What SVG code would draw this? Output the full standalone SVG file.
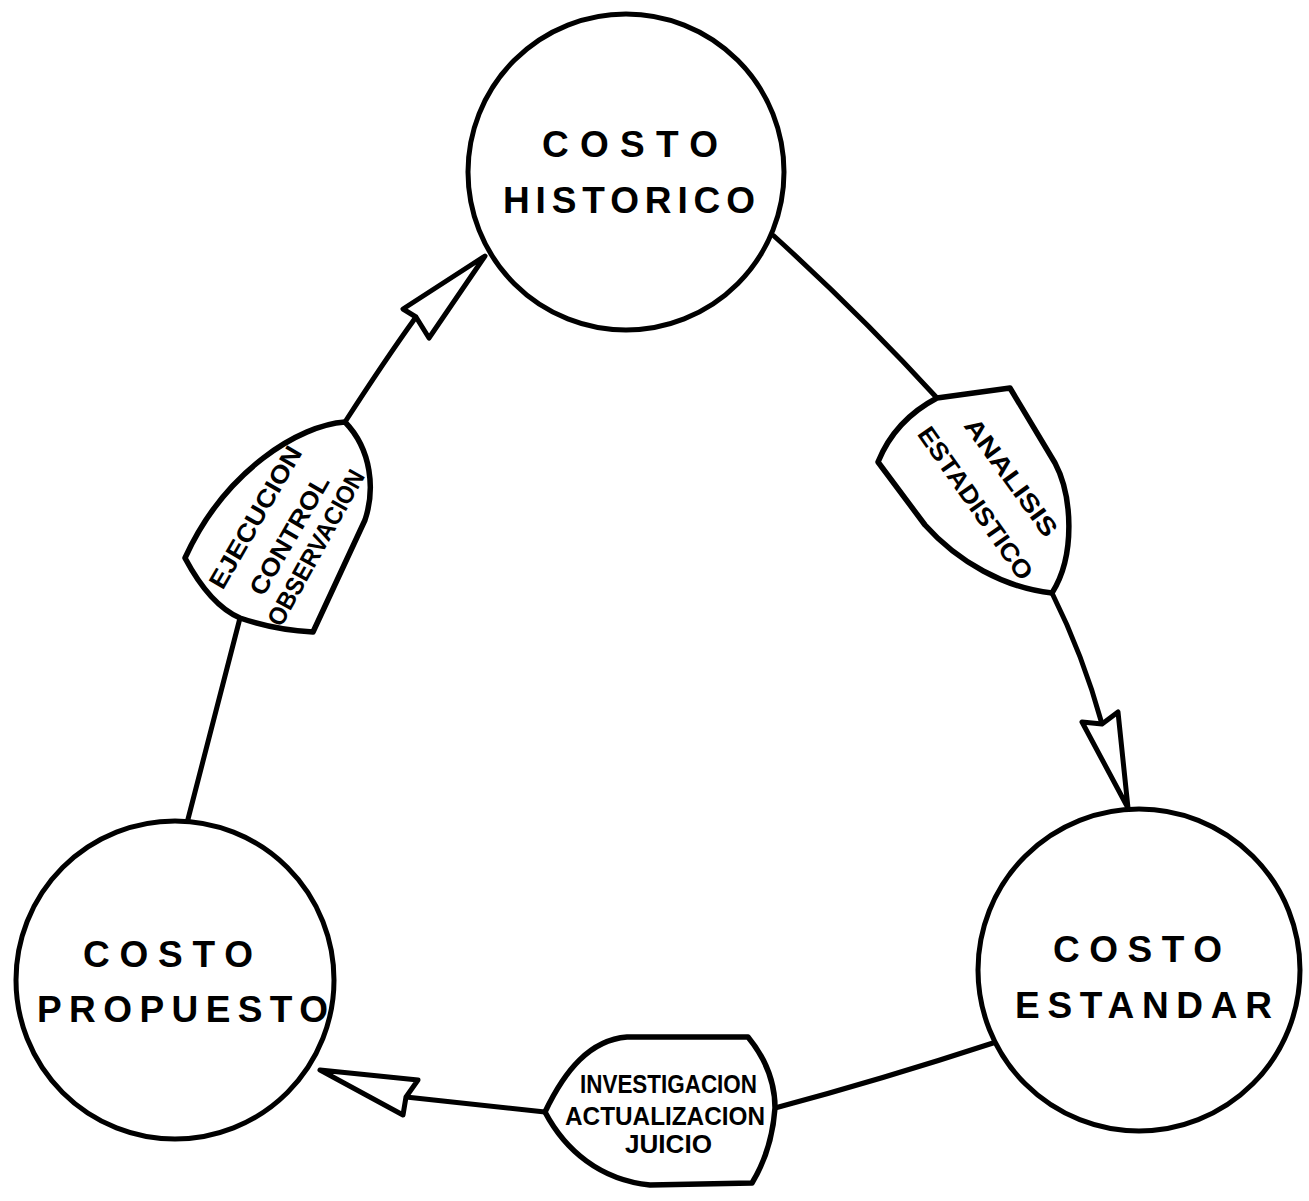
<svg xmlns="http://www.w3.org/2000/svg" width="1309" height="1201" viewBox="0 0 1309 1201">
  <style>
    .node { fill: #fff; stroke: #000; stroke-width: 5; }
    .tag { fill: #fff; stroke: #000; stroke-width: 5.5; stroke-linejoin: round; }
    .wire { fill: none; stroke: #000; stroke-width: 5; stroke-linecap: round; }
    .head { fill: #fff; stroke: #000; stroke-width: 5; stroke-linejoin: round; }
    .big { font-family: "Liberation Sans", Arial, sans-serif; font-weight: bold; font-size: 37px; fill: #000; }
    .small { font-family: "Liberation Sans", Arial, sans-serif; font-weight: bold; font-size: 25px; fill: #000; }
  </style>
  <rect width="1309" height="1201" fill="#fff"/>

  <!-- connectors between the cost stages -->
  <g id="connectors">
    <!-- propuesto -> historico -->
    <path class="wire" d="M187,823 Q214,718 240,618"/>
    <path class="wire" d="M345,422 Q385,360 416,317"/>
    <polygon class="head" points="485,256 403,309 416,317 429,338"/>
    <!-- historico -> estandar -->
    <path class="wire" d="M774,236 Q862,316 937,398"/>
    <path class="wire" d="M1052,593 Q1083,655 1102,724"/>
    <polygon class="head" points="1128,808 1082,722 1102,724 1118,712"/>
    <!-- estandar -> propuesto -->
    <path class="wire" d="M993,1043 Q880,1080 775,1108"/>
    <path class="wire" d="M545,1112 Q470,1104 406,1097"/>
    <polygon class="head" points="320,1070 418,1080 406,1097 403,1115"/>
  </g>

  <!-- stage nodes -->
  <g id="costo-historico">
    <circle class="node" cx="626" cy="172" r="158"/>
    <text class="big" x="542" y="157" textLength="176" lengthAdjust="spacing">COSTO</text>
    <text class="big" x="503" y="213" textLength="252" lengthAdjust="spacing">HISTORICO</text>
  </g>
  <g id="costo-propuesto">
    <circle class="node" cx="175" cy="980" r="159"/>
    <text class="big" x="83" y="967" textLength="170" lengthAdjust="spacing">COSTO</text>
    <text class="big" x="37" y="1022" textLength="291" lengthAdjust="spacing">PROPUESTO</text>
  </g>
  <g id="costo-estandar">
    <circle class="node" cx="1139" cy="970" r="161"/>
    <text class="big" x="1053" y="962" textLength="169" lengthAdjust="spacing">COSTO</text>
    <text class="big" x="1015" y="1018" textLength="257" lengthAdjust="spacing">ESTANDAR</text>
  </g>

  <!-- process tags on the connectors -->
  <g id="tag-ejecucion">
    <path class="tag" d="M345,422 C300,425 225,470 185,558 Q210,605 240,618 Q275,630 313,632 L365,520 C375,490 372,450 345,422 Z"/>
    <text class="small" transform="translate(255,517) rotate(-60)" x="-80" y="9" textLength="160" lengthAdjust="spacingAndGlyphs">EJECUCION</text>
    <text class="small" transform="translate(289,535) rotate(-60)" x="-67" y="9" textLength="134" lengthAdjust="spacingAndGlyphs">CONTROL</text>
    <text class="small" transform="translate(315.5,547.5) rotate(-61)" x="-87" y="9" textLength="174" lengthAdjust="spacingAndGlyphs">OBSERVACION</text>
  </g>
  <g id="tag-analisis">
    <path class="tag" d="M937,398 L1010,388 L1055,463 C1072,495 1076,555 1052,593 C1005,588 958,562 925,525 L878,462 Q895,420 937,398 Z"/>
    <text class="small" transform="translate(1011.5,477) rotate(54)" x="-70" y="9" textLength="140" lengthAdjust="spacingAndGlyphs">ANALISIS</text>
    <text class="small" transform="translate(975.5,502.5) rotate(55)" x="-90" y="9" textLength="181" lengthAdjust="spacingAndGlyphs">ESTADISTICO</text>
  </g>
  <g id="tag-investigacion">
    <path class="tag" d="M545,1112 C565,1070 590,1040 627,1037 L748,1037 Q775,1070 775,1108 Q772,1150 752,1183 L650,1185 C600,1180 565,1150 545,1112 Z"/>
    <text class="small" x="580" y="1093" textLength="177" lengthAdjust="spacingAndGlyphs">INVESTIGACION</text>
    <text class="small" x="565" y="1125" textLength="200" lengthAdjust="spacingAndGlyphs">ACTUALIZACION</text>
    <text class="small" x="625" y="1153" textLength="87" lengthAdjust="spacingAndGlyphs">JUICIO</text>
  </g>
</svg>
